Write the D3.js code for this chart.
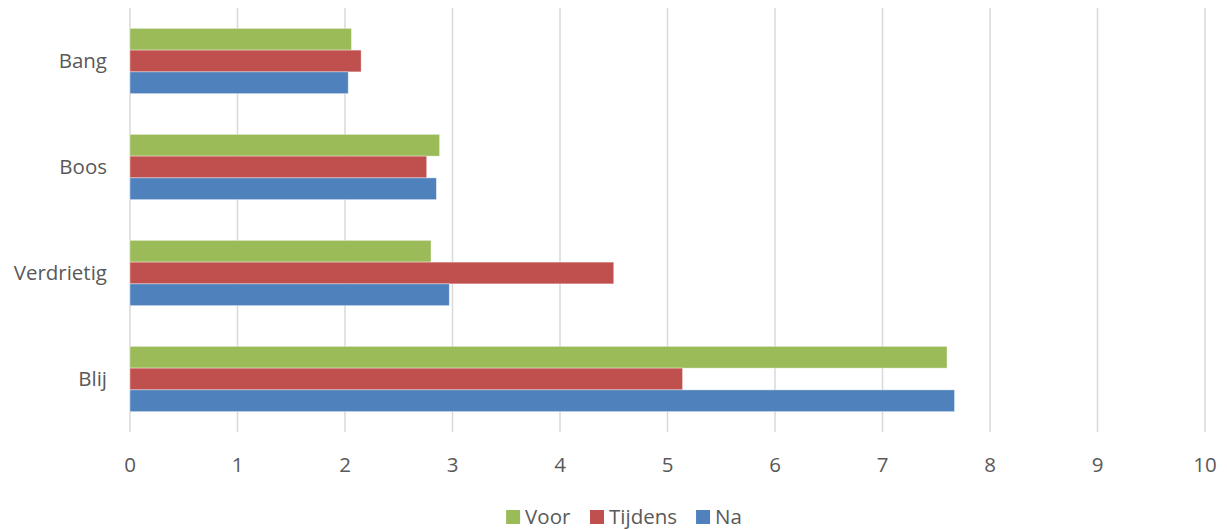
<!DOCTYPE html>
<html>
<head>
<meta charset="utf-8">
<script src="https://cdn.jsdelivr.net/npm/d3@7"></script>
<style>
  body { margin: 0; background: #fff; }
  svg text { font-family: "Open Sans", "Noto Sans", sans-serif; fill: #595959; }
</style>
</head>
<body>
<svg id="chart" width="1227" height="529"></svg>
<script>
// chart data
const categories = ["Bang", "Boos", "Verdrietig", "Blij"];
const seriesNames = ["Voor", "Tijdens", "Na"];
const voor = [2.06, 2.88, 2.80, 7.60];
const tijdens = [2.15, 2.76, 4.50, 5.14];
const na = [2.03, 2.85, 2.97, 7.67];
const xTicks = [0, 1, 2, 3, 4, 5, 6, 7, 8, 9, 10];

const colours = { Voor: "#9BBB59", Tijdens: "#C0504D", Na: "#4F81BD" };
const values = { Voor: voor, Tijdens: tijdens, Na: na };

const margin = { top: 8, left: 130, right: 22, bottom: 97 };
const width = 1227, height = 529;
const fontSize = "20.5px";

const svg = d3.select("#chart");

const x = d3.scaleLinear()
  .domain([0, 10])
  .range([margin.left, width - margin.right]);

const y = d3.scaleBand()
  .domain(categories)
  .range([margin.top, height - margin.bottom])
  .paddingInner(0.384)
  .paddingOuter(0.192);

const ySub = d3.scaleBand()
  .domain(seriesNames)
  .range([0, y.bandwidth()]);

// gridlines
svg.append("g")
  .selectAll("line")
  .data(xTicks)
  .enter()
  .append("line")
  .attr("x1", d => x(d))
  .attr("x2", d => x(d))
  .attr("y1", margin.top)
  .attr("y2", height - margin.bottom)
  .attr("stroke", "#d9d9d9")
  .attr("stroke-width", 1.5);

// bars
const groups = svg.append("g")
  .selectAll("g")
  .data(categories)
  .enter()
  .append("g")
  .attr("transform", d => `translate(0,${y(d)})`);

groups.selectAll("rect")
  .data((c, i) => seriesNames.map(s => ({ s, v: values[s][i] })))
  .enter()
  .append("rect")
  .attr("x", x(0))
  .attr("y", d => ySub(d.s))
  .attr("width", d => x(d.v) - x(0))
  .attr("height", ySub.bandwidth())
  .attr("fill", d => colours[d.s])
  .attr("stroke", "#ffffff")
  .attr("stroke-opacity", 0.5)
  .attr("stroke-width", 0.75);

// x tick labels
svg.append("g")
  .selectAll("text")
  .data(xTicks)
  .enter()
  .append("text")
  .attr("x", d => x(d))
  .attr("y", 472)
  .attr("text-anchor", "middle")
  .style("font-size", fontSize)
  .text(d => d);

// category labels
svg.append("g")
  .selectAll("text")
  .data(categories)
  .enter()
  .append("text")
  .attr("x", 107)
  .attr("y", d => y(d) + y.bandwidth() / 2 + 7)
  .attr("text-anchor", "end")
  .style("font-size", fontSize)
  .text(d => d);

// legend
const legend = svg.append("g");
const items = legend.selectAll("g")
  .data(seriesNames)
  .enter()
  .append("g");

items.append("rect")
  .attr("width", 14)
  .attr("height", 14)
  .attr("y", 510)
  .attr("fill", d => colours[d]);

items.append("text")
  .attr("x", 19)
  .attr("y", 524)
  .style("font-size", fontSize)
  .text(d => d);

let offset = 0;
const widths = [];
items.each(function () {
  widths.push(this.getBBox().width);
});
const gap = 19;
const total = d3.sum(widths) + gap * (widths.length - 1);
const start = 624 - total / 2;
items.attr("transform", (d, i) => {
  const t = `translate(${start + offset},0)`;
  offset += widths[i] + gap;
  return t;
});
</script>
</body>
</html>
